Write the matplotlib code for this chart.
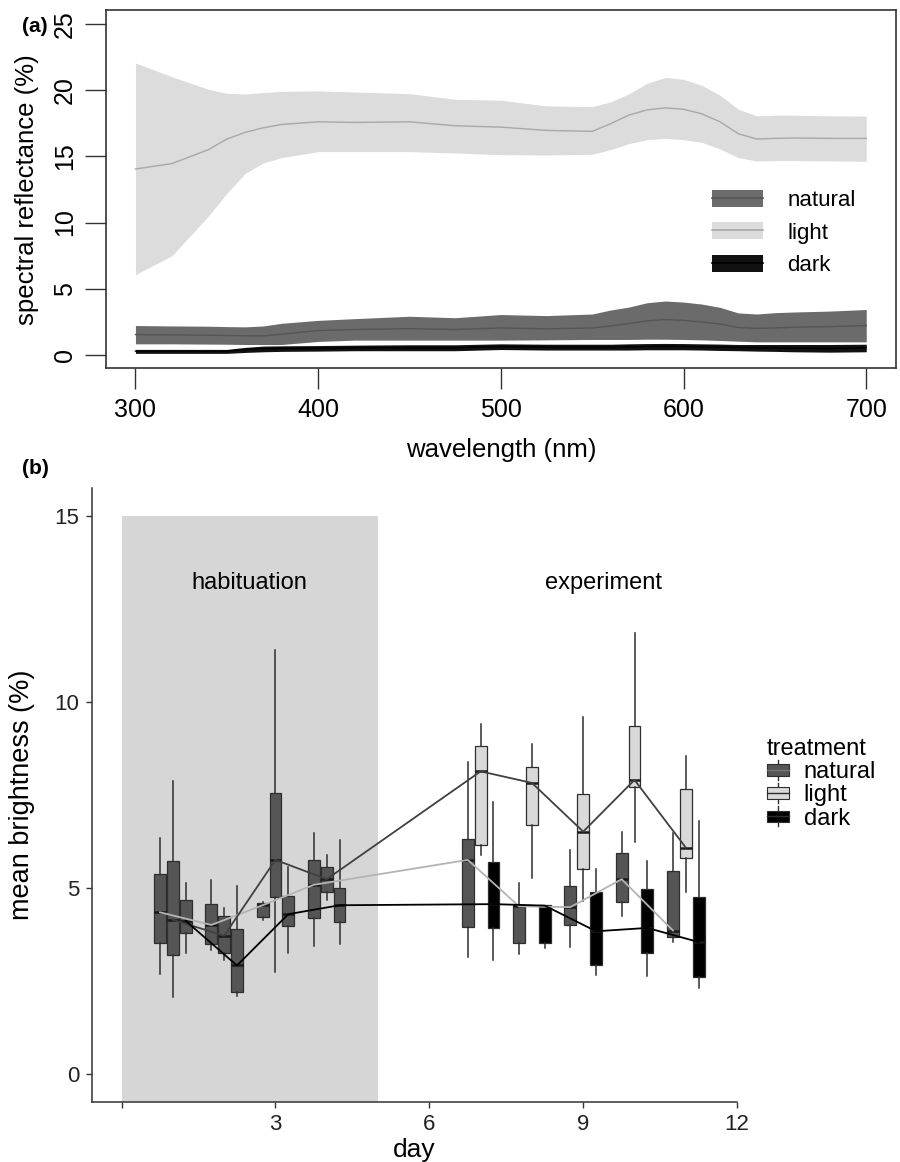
import matplotlib
matplotlib.use("Agg")
import matplotlib.pyplot as plt
from matplotlib.patches import Patch, Rectangle
from matplotlib.lines import Line2D
from matplotlib.legend_handler import HandlerBase, HandlerTuple

plt.rcParams['font.family'] = ['Liberation Sans', 'DejaVu Sans']

# ---------------- (a) spectral reflectance ----------------
wavelength = [300, 320, 340, 350, 360, 370, 380, 400, 420, 450, 475, 500, 525, 550,
              560, 570, 580, 590, 600, 610, 620, 630, 640, 650, 660, 680, 700]

light_mean = [14.04, 14.45, 15.5, 16.3, 16.8, 17.15, 17.4, 17.6, 17.55, 17.6, 17.3, 17.2, 16.95, 16.88,
              17.45, 18.1, 18.5, 18.65, 18.55, 18.2, 17.6, 16.7, 16.3, 16.35, 16.38, 16.35, 16.35]
light_upper = [22.04, 21.0, 20.05, 19.75, 19.7, 19.8, 19.9, 19.93, 19.85, 19.72, 19.3, 19.23, 18.8, 18.75,
               19.1, 19.7, 20.5, 20.95, 20.8, 20.35, 19.6, 18.55, 18.05, 18.1, 18.1, 18.05, 18.03]
light_lower = [6.07, 7.5, 10.5, 12.2, 13.7, 14.5, 14.9, 15.35, 15.35, 15.35, 15.25, 15.12, 15.1, 15.15,
               15.5, 15.95, 16.25, 16.35, 16.25, 16.05, 15.55, 14.9, 14.65, 14.67, 14.67, 14.65, 14.62]

natural_mean = [1.55, 1.52, 1.5, 1.48, 1.45, 1.45, 1.58, 1.85, 1.93, 2.0, 1.93, 2.05, 1.98, 2.05,
                2.2, 2.38, 2.58, 2.68, 2.62, 2.5, 2.35, 2.08, 2.02, 2.05, 2.1, 2.15, 2.23]
natural_upper = [2.23, 2.2, 2.18, 2.15, 2.13, 2.2, 2.4, 2.62, 2.75, 2.93, 2.82, 3.06, 2.98, 3.1,
                 3.4, 3.62, 3.95, 4.08, 4.0, 3.85, 3.6, 3.18, 3.1, 3.2, 3.25, 3.32, 3.44]
natural_lower = [0.85, 0.85, 0.83, 0.82, 0.8, 0.8, 0.8, 1.03, 1.13, 1.13, 1.13, 1.13, 1.15, 1.18,
                 1.18, 1.18, 1.2, 1.2, 1.18, 1.15, 1.1, 1.05, 1.0, 1.0, 1.0, 1.0, 1.0]

dark_mean = [0.3, 0.3, 0.3, 0.3, 0.42, 0.48, 0.5, 0.5, 0.55, 0.55, 0.55, 0.65, 0.6, 0.6,
             0.6, 0.62, 0.65, 0.65, 0.65, 0.62, 0.6, 0.58, 0.55, 0.55, 0.52, 0.5, 0.55]
dark_upper = [0.43, 0.43, 0.43, 0.43, 0.58, 0.68, 0.7, 0.72, 0.75, 0.78, 0.78, 0.85, 0.82, 0.82,
              0.82, 0.85, 0.87, 0.88, 0.87, 0.85, 0.83, 0.8, 0.8, 0.8, 0.8, 0.8, 0.82]
dark_lower = [0.13, 0.13, 0.13, 0.13, 0.2, 0.25, 0.28, 0.3, 0.33, 0.33, 0.33, 0.42, 0.38, 0.38,
              0.38, 0.38, 0.4, 0.4, 0.4, 0.38, 0.35, 0.33, 0.3, 0.28, 0.25, 0.22, 0.25]

# ---------------- (b) mean brightness ----------------
treatments = ['natural', 'light', 'dark']
hab_days = [1, 2, 3, 4]
exp_days = [7, 8, 9, 10, 11]
days = hab_days + exp_days
# (lower whisker, q1, median, q3, upper whisker) for each day
natural_box = [(2.68, 3.51, 4.34, 5.38, 6.34), (3.33, 3.49, 4.00, 4.56, 5.22),
               (4.12, 4.21, 4.53, 4.59, 4.62), (3.44, 4.19, 5.08, 5.75, 6.47),
               (3.13, 3.94, 5.75, 6.32, 8.38), (3.23, 3.51, 4.50, 4.53, 5.13),
               (3.41, 4.00, 4.48, 5.05, 6.02), (4.23, 4.63, 5.23, 5.93, 6.50),
               (3.53, 3.67, 3.85, 5.44, 6.47)]
light_box = [(2.06, 3.18, 4.14, 5.72, 7.87), (3.06, 3.24, 3.71, 4.25, 4.45),
             (2.73, 4.74, 5.75, 7.55, 11.40), (4.68, 4.88, 5.23, 5.56, 5.89),
             (5.87, 6.14, 8.13, 8.80, 9.40), (5.26, 6.69, 7.82, 8.24, 8.87),
             (4.65, 5.50, 6.51, 7.52, 9.59), (6.24, 7.70, 7.90, 9.36, 11.85),
             (4.88, 5.80, 6.08, 7.66, 8.55)]
dark_box = [(3.24, 3.78, 4.11, 4.68, 5.13), (2.10, 2.21, 2.91, 3.89, 5.04),
            (3.24, 3.98, 4.29, 4.77, 5.55), (3.49, 4.09, 4.53, 4.99, 6.29),
            (3.06, 3.92, 4.56, 5.68, 7.32), (3.38, 3.51, 4.52, 4.53, 4.54),
            (2.66, 2.93, 3.83, 4.88, 5.50), (2.64, 3.24, 3.92, 4.96, 5.73),
            (2.30, 2.60, 3.54, 4.74, 6.80)]
phases = [('habituation', 0, 5, 2.5), ('experiment', 5, None, 9.4)]

dodge = {'natural': -0.25, 'light': 0.0, 'dark': 0.25}
fill = {'natural': '#555555', 'light': '#d9d9d9', 'dark': '#000000'}
trend_col = {'natural': '#b4b4b4', 'light': '#404040', 'dark': '#000000'}
edge = '#2e2e2e'

fig = plt.figure(figsize=(9, 11.62), dpi=100)

# ---------- panel a ----------
ax = fig.add_axes([0.118, 0.683, 0.877, 0.308])
bands = [('light', light_lower, light_upper, light_mean, '#dcdcdc', '#a8a8a8'),
         ('natural', natural_lower, natural_upper, natural_mean, '#6b6b6b', '#555555'),
         ('dark', dark_lower, dark_upper, dark_mean, '#111111', '#000000')]
handles = {}
for name, lo, hi, mu, fc, lc in bands:
    ax.fill_between(wavelength, lo, hi, color=fc, lw=0)
    ax.plot(wavelength, mu, color=lc, lw=1)
    handles[name] = (Patch(facecolor=fc, edgecolor='none'), Line2D([], [], color=lc, lw=1.2))
ax.set_xlim(284, 716)
ax.set_ylim(-1, 26)
ax.set_xticks([300, 400, 500, 600, 700])
ax.set_yticks([0, 5, 10, 15, 20, 25])
ax.tick_params(direction='out', length=15, width=1, color='#333333', labelsize=18, pad=6)
ax.tick_params(axis='y', labelrotation=90)
for lab in ax.get_yticklabels():
    lab.set_va('center')
for s in ax.spines.values():
    s.set_color('#333333')
    s.set_linewidth(1.2)
ax.set_xlabel('wavelength (nm)', fontsize=18.5, labelpad=12)
ax.set_ylabel('spectral reflectance (%)', fontsize=18.5, labelpad=10)
ax.legend([handles[t] for t in treatments], treatments,
          handler_map={tuple: HandlerTuple(ndivide=1, pad=0)},
          loc='upper left', bbox_to_anchor=(712 / 900, 1 - 190 / 1162),
          bbox_transform=fig.transFigure, frameon=False, fontsize=16,
          handlelength=2.3, handleheight=0.8, handletextpad=1.1,
          labelspacing=0.5, borderpad=0, borderaxespad=0)
fig.text(22 / 900, 1 - 27 / 1162, '(a)', fontsize=15, fontweight='bold', va='center')

# ---------- panel b ----------
bx = fig.add_axes([0.102, 0.052, 0.717, 0.528])
ylo, yhi = -0.75, 15.75
for label, x0, x1, xt in phases:
    if x1 is not None:
        bx.add_patch(Rectangle((x0, ylo), x1 - x0, 15 - ylo, facecolor='#d6d6d6',
                               edgecolor='none', zorder=0))
    bx.text(xt, 13.2, label, ha='center', va='center', fontsize=17)

for name, boxes in zip(treatments, [natural_box, light_box, dark_box]):
    pos = [d + dodge[name] for d in days]
    stats = [dict(whislo=b[0], q1=b[1], med=b[2], q3=b[3], whishi=b[4]) for b in boxes]
    art = bx.bxp(stats, positions=pos, widths=0.23, patch_artist=True, showfliers=False,
                 showcaps=False, manage_ticks=False,
                 boxprops=dict(edgecolor=edge, linewidth=0.9),
                 whiskerprops=dict(color=edge, linewidth=1.1),
                 medianprops=dict(color='#1a1a1a', linewidth=1.8), zorder=3)
    for d, patch in zip(days, art['boxes']):
        patch.set_facecolor(fill['natural'] if d in hab_days else fill[name])
    bx.plot(pos, [b[2] for b in boxes], color=trend_col[name], lw=1.3, zorder=5)

bx.set_xlim(-0.58, 12.0)
bx.set_ylim(ylo, yhi)
bx.set_xticks([0, 3, 6, 9, 12])
bx.set_xticklabels(['', '3', '6', '9', '12'])
bx.set_yticks([0, 5, 10, 15])
bx.tick_params(direction='out', length=4, width=1, color='#333333', labelsize=16,
               labelcolor='#222222', pad=5)
for side in ['top', 'right']:
    bx.spines[side].set_visible(False)
for side in ['left', 'bottom']:
    bx.spines[side].set_color('#333333')
    bx.spines[side].set_linewidth(1.1)
bx.set_xlabel('day', fontsize=19, labelpad=2)
bx.set_ylabel('mean brightness (%)', fontsize=19.5, labelpad=14)


class BoxKey(HandlerBase):
    def create_artists(self, legend, orig_handle, xdescent, ydescent, width, height,
                       fontsize, trans):
        x0, y0 = -xdescent, -ydescent
        xc = x0 + width / 2
        rect = Rectangle((x0, y0 + 0.12 * height), width, 0.76 * height,
                         facecolor=orig_handle.get_facecolor(), edgecolor=edge,
                         lw=0.8, transform=trans)
        med = Line2D([x0, x0 + width], [y0 + height / 2] * 2, color='#777777' if
                     orig_handle.get_label() == 'natural' else edge, lw=1, transform=trans)
        w_lo = Line2D([xc, xc], [y0 - 0.15 * height, y0 + 0.12 * height], color=edge, lw=1,
                      transform=trans)
        w_hi = Line2D([xc, xc], [y0 + 0.88 * height, y0 + 1.15 * height], color=edge, lw=1,
                      transform=trans)
        return [w_lo, w_hi, rect, med]


key_handles = [Patch(facecolor=fill[t], label=t) for t in treatments]
fig.legend(key_handles, treatments, handler_map={Patch: BoxKey()},
           loc='upper left', bbox_to_anchor=(767 / 900, 1 - 738 / 1162),
           frameon=False, fontsize=17, title='treatment', title_fontsize=17,
           alignment='left', handlelength=0.95, handleheight=0.6, handletextpad=0.6,
           labelspacing=0.05, borderpad=0, borderaxespad=0)
fig.text(22 / 900, 1 - 469 / 1162, '(b)', fontsize=15, fontweight='bold', va='center')

fig.savefig('out.png', dpi=100)
